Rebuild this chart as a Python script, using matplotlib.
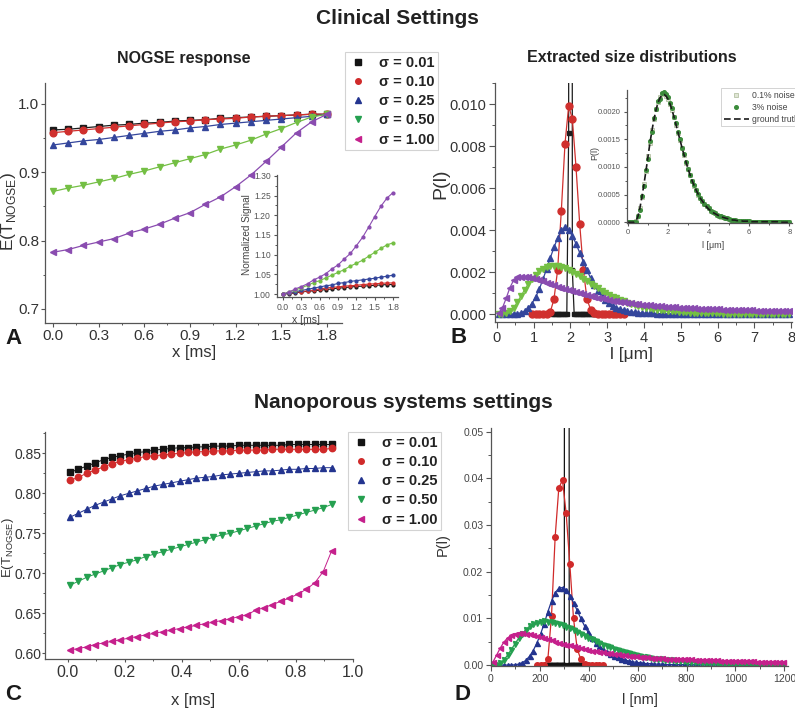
import numpy as np
import matplotlib
matplotlib.use('Agg')
import matplotlib.pyplot as plt
from matplotlib.lines import Line2D
from matplotlib.ticker import MultipleLocator, FormatStrFormatter

plt.rcParams['font.family'] = ['Liberation Sans', 'DejaVu Sans']
plt.rcParams['mathtext.fontset'] = 'custom'
plt.rcParams['mathtext.rm'] = 'Liberation Sans'

W, H = 795, 709

# ---------------- data ----------------
sigmaLabels = ['0.01', '0.10', '0.25', '0.50', '1.00']

# panel A: NOGSE response (clinical), x in ms
xA = np.round(np.arange(0, 1.85, 0.1), 2)
respA_s001 = [0.962, 0.963, 0.965, 0.967, 0.969, 0.970, 0.972, 0.973, 0.975, 0.976,
              0.977, 0.979, 0.980, 0.981, 0.982, 0.983, 0.984, 0.985, 0.985]
respA_s010 = [0.958, 0.960, 0.962, 0.964, 0.966, 0.968, 0.970, 0.972, 0.974, 0.975,
              0.977, 0.978, 0.979, 0.981, 0.982, 0.983, 0.984, 0.985, 0.985]
respA_s025 = [0.940, 0.943, 0.946, 0.948, 0.951, 0.954, 0.957, 0.960, 0.962, 0.965,
              0.967, 0.970, 0.972, 0.974, 0.976, 0.978, 0.980, 0.982, 0.985]
respA_s050 = [0.872, 0.877, 0.881, 0.886, 0.891, 0.897, 0.902, 0.908, 0.914, 0.920,
              0.926, 0.934, 0.940, 0.947, 0.956, 0.964, 0.973, 0.981, 0.985]
respA_s100 = [0.783, 0.787, 0.793, 0.798, 0.803, 0.811, 0.817, 0.824, 0.833, 0.841,
              0.853, 0.864, 0.879, 0.896, 0.916, 0.937, 0.958, 0.974, 0.985]

# inset of A: normalized signal
normA_s001 = [1.000, 1.001, 1.003, 1.005, 1.007, 1.008, 1.010, 1.011, 1.013, 1.015,
              1.016, 1.018, 1.019, 1.020, 1.021, 1.022, 1.023, 1.024, 1.024]
normA_s010 = [1.000, 1.002, 1.004, 1.006, 1.008, 1.010, 1.013, 1.015, 1.017, 1.018,
              1.020, 1.021, 1.022, 1.024, 1.025, 1.026, 1.027, 1.028, 1.028]
normA_s025 = [1.000, 1.003, 1.006, 1.009, 1.012, 1.015, 1.018, 1.021, 1.023, 1.027,
              1.029, 1.032, 1.034, 1.036, 1.038, 1.040, 1.043, 1.045, 1.048]
normA_s050 = [1.000, 1.006, 1.010, 1.016, 1.022, 1.029, 1.034, 1.041, 1.048, 1.055,
              1.062, 1.071, 1.078, 1.086, 1.096, 1.106, 1.116, 1.125, 1.130]
normA_s100 = [1.000, 1.005, 1.013, 1.019, 1.026, 1.036, 1.043, 1.052, 1.064, 1.074,
              1.089, 1.103, 1.123, 1.144, 1.170, 1.197, 1.223, 1.244, 1.258]

# panel B: extracted size distributions (clinical), l in um
lB = np.round(np.arange(0.05, 8.0, 0.1), 2)
lB_s001 = np.round(np.arange(1.5, 2.72, 0.05), 3)
distB_s001 = [0, 0, 0, 0, 0, 0, 0, 0, 0, 0.0086, 0.4, 0.0021, 0,
              0, 0, 0, 0, 0, 0, 0, 0, 0, 0, 0, 0]
lB_s010 = np.round(np.arange(0.95, 3.5, 0.1), 2)
distB_s010 = [0, 0, 0, 0, 0.00002, 0.0001, 0.0007, 0.0021, 0.0049, 0.0081,
              0.0099, 0.0093, 0.0070, 0.0043, 0.0021, 0.0007, 0.0002, 0.00005, 0, 0,
              0, 0, 0, 0, 0, 0]
distB_s025 = [0, 0, 0, 0, 0, 0.00002, 0.00006, 0.00014, 0.00028,
              0.00050, 0.00080, 0.00118, 0.00165, 0.00215, 0.00267, 0.00317, 0.00362, 0.00398, 0.00412,
              0.00400, 0.00372, 0.00335, 0.00292, 0.00250, 0.00208, 0.00170, 0.00137, 0.00108, 0.00085,
              0.00066, 0.00051, 0.00040, 0.00031, 0.00024, 0.00018, 0.00014, 0.00011, 0.00008, 0.00006,
              0.00005, 0.00004, 0.00003, 0.00003, 0.00002, 0.00002, 0.00001, 0.00001, 0.00001, 0.00001,
              0, 0, 0, 0, 0, 0, 0, 0, 0, 0, 0, 0, 0, 0, 0, 0, 0, 0, 0, 0,
              0, 0, 0, 0, 0, 0, 0, 0, 0, 0, 0]
distB_s050 = [0.00000, 0.00001, 0.00004, 0.00012, 0.00030, 0.00055, 0.00085, 0.00115, 0.00143,
              0.00167, 0.00187, 0.00203, 0.00215, 0.00223, 0.00228, 0.00230, 0.00229, 0.00225, 0.00219,
              0.00211, 0.00202, 0.00191, 0.00180, 0.00168, 0.00156, 0.00144, 0.00133, 0.00122, 0.00111,
              0.00101, 0.00092, 0.00083, 0.00075, 0.00067, 0.00060, 0.00054, 0.00048, 0.00043, 0.00038,
              0.00034, 0.00030, 0.00027, 0.00024, 0.00021, 0.00019, 0.00017, 0.00015, 0.00013, 0.00012,
              0.00010, 0.00009, 0.00008, 0.00007, 0.00006, 0.00006, 0.00005, 0.00004, 0.00004, 0.00003,
              0.00003, 0.00003, 0.00002, 0.00002, 0.00002, 0.00002, 0.00001, 0.00001, 0.00001, 0.00001,
              0.00001, 0.00001, 0.00001, 0.00001, 0.00001, 0, 0, 0, 0, 0, 0]
distB_s100 = [0.00005, 0.00030, 0.00075, 0.00125, 0.00160, 0.00174, 0.00178, 0.00178, 0.00176, 0.00172,
              0.00167, 0.00162, 0.00156, 0.00150, 0.00144, 0.00137, 0.00131, 0.00125, 0.00119, 0.00113,
              0.00108, 0.00105, 0.00100, 0.00095, 0.00090, 0.00086, 0.00082, 0.00078, 0.00074, 0.00071,
              0.00067, 0.00064, 0.00061, 0.00059, 0.00056, 0.00054, 0.00051, 0.00049, 0.00047, 0.00045,
              0.00043, 0.00041, 0.00040, 0.00038, 0.00037, 0.00035, 0.00034, 0.00033, 0.00032, 0.00031,
              0.00030, 0.00029, 0.00028, 0.00027, 0.00026, 0.00025, 0.00025, 0.00024, 0.00023, 0.00022,
              0.00022, 0.00021, 0.00021, 0.00020, 0.00019, 0.00019, 0.00018, 0.00018, 0.00017, 0.00017,
              0.00016, 0.00016, 0.00016, 0.00015, 0.00015, 0.00014, 0.00014, 0.00014, 0.00013, 0.00013]

# inset of B: noise test, l in um
lBin = np.round(np.arange(0, 8.05, 0.1), 2)
truthBin = [0, 0, 0, 0, 0.00002, 0.00010, 0.00025, 0.00045, 0.00068, 0.00092,
            0.00118, 0.00143, 0.00166, 0.00186, 0.00203, 0.00216, 0.00225, 0.00230, 0.00231, 0.00228,
            0.00222, 0.00213, 0.00202, 0.00189, 0.00175, 0.00161, 0.00147, 0.00133, 0.00120, 0.00107,
            0.00095, 0.00084, 0.00074, 0.00065, 0.00057, 0.00050, 0.00043, 0.00038, 0.00033, 0.00028,
            0.00024, 0.00021, 0.00018, 0.00016, 0.00014, 0.00012, 0.00010, 0.00009, 0.00008, 0.00007,
            0.00006, 0.00005, 0.00004, 0.00004, 0.00003, 0.00003, 0.00003, 0.00002, 0.00002, 0.00002,
            0.00002, 0.00001, 0.00001, 0.00001, 0.00001, 0.00001, 0.00001, 0.00001, 0.00001, 0.00001,
            0.00001, 0.00001, 0.00001, 0.00001, 0.00001, 0, 0, 0, 0, 0, 0]
noise01Bin = [0, 0, 0, 0, 0.00002, 0.00011, 0.00026, 0.00046, 0.00069, 0.00093,
              0.00119, 0.00144, 0.00167, 0.00187, 0.00204, 0.00217, 0.00226, 0.00231, 0.00232, 0.00229,
              0.00223, 0.00214, 0.00203, 0.00190, 0.00176, 0.00162, 0.00148, 0.00134, 0.00121, 0.00108,
              0.00096, 0.00085, 0.00075, 0.00066, 0.00058, 0.00050, 0.00044, 0.00038, 0.00033, 0.00029,
              0.00025, 0.00021, 0.00018, 0.00016, 0.00014, 0.00012, 0.00010, 0.00009, 0.00008, 0.00007,
              0.00006, 0.00005, 0.00004, 0.00004, 0.00003, 0.00003, 0.00003, 0.00002, 0.00002, 0.00002,
              0.00002, 0.00001, 0.00001, 0.00001, 0.00001, 0.00001, 0.00001, 0.00001, 0.00001, 0.00001,
              0.00001, 0.00001, 0.00001, 0.00001, 0.00001, 0, 0, 0, 0, 0, 0]
noise3Bin = [0, 0, 0, 0, 0.00001, 0.00012, 0.00022, 0.00048, 0.00066, 0.00095,
             0.00115, 0.00146, 0.00163, 0.00189, 0.00205, 0.00219, 0.00223, 0.00233, 0.00235, 0.00231,
             0.00226, 0.00215, 0.00206, 0.00191, 0.00179, 0.00163, 0.00150, 0.00135, 0.00123, 0.00109,
             0.00097, 0.00086, 0.00075, 0.00067, 0.00058, 0.00051, 0.00044, 0.00039, 0.00033, 0.00029,
             0.00025, 0.00021, 0.00019, 0.00016, 0.00014, 0.00012, 0.00011, 0.00009, 0.00008, 0.00007,
             0.00006, 0.00005, 0.00005, 0.00004, 0.00003, 0.00003, 0.00003, 0.00002, 0.00002, 0.00002,
             0.00002, 0.00001, 0.00001, 0.00001, 0.00001, 0.00001, 0.00001, 0.00001, 0.00001, 0.00001,
             0.00001, 0.00001, 0.00001, 0.00001, 0.00001, 0, 0, 0, 0, 0, 0]

# panel C: NOGSE response (nanoporous), x in ms
xC = np.linspace(0.007, 0.925, 32)
respC_s001 = [0.826, 0.830, 0.834, 0.838, 0.842, 0.845, 0.847, 0.849, 0.851, 0.852,
              0.854, 0.855, 0.856, 0.857, 0.857, 0.858, 0.858, 0.859, 0.859, 0.859,
              0.860, 0.860, 0.860, 0.860, 0.860, 0.860, 0.861, 0.861, 0.861, 0.861, 0.861, 0.861]
respC_s010 = [0.816, 0.820, 0.825, 0.829, 0.833, 0.837, 0.840, 0.842, 0.844, 0.846,
              0.847, 0.848, 0.849, 0.850, 0.851, 0.852, 0.852, 0.853, 0.853, 0.853,
              0.854, 0.854, 0.854, 0.854, 0.855, 0.855, 0.855, 0.855, 0.855, 0.855, 0.855, 0.856]
respC_s025 = [0.770, 0.775, 0.780, 0.785, 0.789, 0.793, 0.797, 0.800, 0.803, 0.806,
              0.809, 0.811, 0.813, 0.815, 0.817, 0.819, 0.820, 0.821, 0.823, 0.824,
              0.825, 0.826, 0.827, 0.828, 0.828, 0.829, 0.830, 0.830, 0.831, 0.831, 0.832, 0.832]
respC_s050 = [0.685, 0.690, 0.695, 0.699, 0.703, 0.707, 0.711, 0.714, 0.717, 0.721,
              0.724, 0.727, 0.730, 0.733, 0.736, 0.739, 0.742, 0.745, 0.748, 0.750,
              0.753, 0.756, 0.759, 0.762, 0.765, 0.767, 0.770, 0.773, 0.776, 0.779, 0.782, 0.786]
respC_s100 = [0.604, 0.606, 0.608, 0.611, 0.613, 0.615, 0.617, 0.619, 0.621, 0.623,
              0.625, 0.627, 0.629, 0.631, 0.633, 0.635, 0.637, 0.639, 0.641, 0.643,
              0.646, 0.648, 0.654, 0.657, 0.661, 0.665, 0.669, 0.674, 0.680, 0.688, 0.702, 0.728]

# panel D: extracted size distributions (nanoporous), l in nm
lD = np.arange(7.5, 1200, 15.0)
lD_s001 = np.arange(225, 401, 5.0)
distD_s001 = [0, 0, 0, 0, 0, 0, 0, 0, 0, 0, 0, 0, 0, 0, 0, 0, 1.0, 1.5, 1.0,
              0, 0, 0, 0, 0, 0, 0, 0, 0, 0, 0, 0, 0, 0, 0, 0, 0]
lD_s010 = np.arange(187.5, 460, 15.0)
distD_s010 = [0, 0, 0.0001, 0.0012, 0.0105, 0.0275, 0.0380, 0.0396, 0.0325, 0.0216,
              0.0100, 0.0035, 0.0012, 0.0003, 0, 0, 0, 0, 0]
distD_s025 = [0, 0, 0, 0, 0, 0,
              0.00005, 0.0002, 0.0005, 0.0010, 0.0019, 0.0031, 0.0047, 0.0066, 0.0089, 0.0114,
              0.0137, 0.0155, 0.0165, 0.0166, 0.0160, 0.0149, 0.0134, 0.0117, 0.0100, 0.0084,
              0.0070, 0.0057, 0.0047, 0.0040, 0.0034, 0.0029, 0.0024, 0.0020, 0.0017, 0.0014,
              0.0011, 0.0009, 0.0007, 0.0006, 0.0005, 0.0004, 0.0003, 0.0003, 0.0002,
              0.0002, 0.0002, 0.0001, 0.0001, 0.0001, 0.0001, 0.0001, 0.0001, 0.0001, 0.0001,
              0.00005, 0.00005, 0.00005, 0.00005, 0.00005, 0.00005, 0.00005, 0.00005, 0.00005, 0.00005,
              0, 0, 0, 0, 0, 0, 0, 0, 0, 0, 0, 0, 0, 0, 0]
distD_s050 = [0, 0.0001, 0.0004, 0.0011, 0.0021, 0.0033, 0.0045, 0.0057, 0.0067, 0.0076,
              0.0083, 0.0088, 0.0091, 0.0093, 0.0094, 0.0093, 0.0092, 0.0090, 0.0088, 0.0085,
              0.0082, 0.0079, 0.0075, 0.0071, 0.0067, 0.0063, 0.0059, 0.0055, 0.0051, 0.0047,
              0.0044, 0.0041, 0.0038, 0.0035, 0.0032, 0.0030, 0.0027, 0.0025, 0.0023, 0.0021,
              0.0020, 0.0018, 0.0017, 0.0016, 0.0014, 0.0013, 0.0012, 0.0011, 0.0010, 0.0010,
              0.0009, 0.0008, 0.0008, 0.0007, 0.0007, 0.0006, 0.0006, 0.0005, 0.0005, 0.0004,
              0.0004, 0.0004, 0.0003, 0.0003, 0.0003, 0.0003, 0.0002, 0.0002, 0.0002, 0.0002,
              0.0002, 0.0002, 0.0001, 0.0001, 0.0001, 0.0001, 0.0001, 0.0001, 0.0001, 0.0001]
distD_s100 = [0.0006, 0.0021, 0.0036, 0.0049, 0.0058, 0.0064, 0.0067, 0.0068, 0.0068, 0.0067,
              0.0066, 0.0064, 0.0062, 0.0060, 0.0058, 0.0055, 0.0053, 0.0050, 0.0048, 0.0046,
              0.0044, 0.0042, 0.0040, 0.0038, 0.0036, 0.0034, 0.0033, 0.0031, 0.0030, 0.0029,
              0.0027, 0.0026, 0.0025, 0.0024, 0.0023, 0.0022, 0.0021, 0.0020, 0.0020, 0.0019,
              0.0018, 0.0018, 0.0017, 0.0016, 0.0016, 0.0015, 0.0015, 0.0014, 0.0014, 0.0013,
              0.0013, 0.0013, 0.0012, 0.0012, 0.0012, 0.0011, 0.0011, 0.0011, 0.0010, 0.0010,
              0.0010, 0.0010, 0.0009, 0.0009, 0.0009, 0.0009, 0.0008, 0.0008, 0.0008, 0.0008,
              0.0008, 0.0008, 0.0007, 0.0007, 0.0007, 0.0007, 0.0007, 0.0007, 0.0006, 0.0006]

# ---------------- style ----------------
markers = ['s', 'o', '^', 'v', '<']
coloursA = ['#1c1c1c', '#d0302e', '#34469c', '#74bf44', '#8a4cb0']
coloursC = ['#141414', '#d02a2a', '#23348f', '#25a050', '#c5208c']

fig = plt.figure(figsize=(W / 100, H / 100), dpi=100)


def axes_px(left, top, right, bottom):
    return fig.add_axes([left / W, 1 - bottom / H, (right - left) / W, (bottom - top) / H])


def text_px(x, y, s, **kw):
    kw.setdefault('ha', 'center')
    kw.setdefault('va', 'center')
    fig.text(x / W, 1 - y / H, s, **kw)


def style_axes(ax, size, tick_len=4.5, colour='#333333', pad=2):
    ax.patch.set_alpha(0)
    for side in ['top', 'right']:
        ax.spines[side].set_visible(False)
    for side in ['left', 'bottom']:
        ax.spines[side].set_color('#555555')
        ax.spines[side].set_linewidth(0.9)
    ax.tick_params(which='major', direction='out', length=tick_len, width=0.8,
                   labelsize=size, colors='#555555', labelcolor=colour, pad=pad)
    ax.tick_params(which='minor', direction='out', length=tick_len * 0.55, width=0.7,
                   colors='#555555')


def sigma_legend(ax, left, top):
    handles = [Line2D([], [], ls='none', marker=m, color=c, ms=4)
               for m, c in zip(markers, coloursC)]
    labels = ['\u03c3 = ' + s for s in sigmaLabels]
    leg = ax.legend(handles, labels, loc='upper left',
                    bbox_to_anchor=(left / W, 1 - top / H), bbox_transform=fig.transFigure,
                    borderaxespad=0, frameon=True, fancybox=False, borderpad=0.25,
                    labelspacing=0.36, handlelength=1.3, handletextpad=0.75,
                    prop={'weight': 'bold', 'size': 10.5})
    leg.get_frame().set_edgecolor('#c8c8c8')
    leg.get_frame().set_linewidth(0.8)
    for t in leg.get_texts():
        t.set_color('#222222')


# ---------------- panel A ----------------
axA = axes_px(45, 83, 342, 323)
for y, m, c in zip([respA_s001, respA_s010, respA_s025, respA_s050, respA_s100], markers, coloursA):
    axA.plot(xA, y, marker=m, color=c, ms=4.8 if m != 's' else 4.3, lw=0.9)
axA.set_xlim(-0.0526, 1.8986)
axA.set_ylim(0.6795, 1.0307)
axA.xaxis.set_major_locator(MultipleLocator(0.3))
axA.xaxis.set_minor_locator(MultipleLocator(0.15))
axA.yaxis.set_major_locator(MultipleLocator(0.1))
axA.yaxis.set_minor_locator(MultipleLocator(0.05))
axA.xaxis.set_major_formatter(FormatStrFormatter('%.1f'))
axA.yaxis.set_major_formatter(FormatStrFormatter('%.1f'))
style_axes(axA, 11, tick_len=3.0, pad=1.0)
axA.tick_params(axis='x', pad=1.5)
sigma_legend(axA, 345, 52)

# inset of A
axAi = axes_px(277, 175, 398, 297)
for y, m, c in zip([normA_s001, normA_s010, normA_s025, normA_s050, normA_s100], markers, coloursA):
    axAi.plot(xA, y, marker='o', color=c, ms=2.0, lw=0.8)
axAi.set_xlim(-0.1, 1.88)
axAi.set_ylim(0.9924, 1.3025)
axAi.xaxis.set_major_locator(MultipleLocator(0.3))
axAi.xaxis.set_minor_locator(MultipleLocator(0.15))
axAi.yaxis.set_major_locator(MultipleLocator(0.05))
axAi.yaxis.set_minor_locator(MultipleLocator(0.025))
axAi.xaxis.set_major_formatter(FormatStrFormatter('%.1f'))
axAi.yaxis.set_major_formatter(FormatStrFormatter('%.2f'))
style_axes(axAi, 6.2, tick_len=2.5, colour='#555555')

# ---------------- panel B ----------------
axB = axes_px(495, 83, 792, 322)
axB.plot(lB_s001, distB_s001, marker='s', color=coloursA[0], ms=3.3, lw=0.9)
axB.plot(lB_s010, distB_s010, marker='o', color=coloursA[1], ms=5.0, lw=0.9)
for y, m, c in zip([distB_s025, distB_s050, distB_s100], markers[2:], coloursA[2:]):
    axB.plot(lB, y, marker=m, color=c, ms=4.2, lw=0.9)
axB.set_xlim(-0.054, 8.027)
axB.set_ylim(-0.00038, 0.0110)
axB.xaxis.set_major_locator(MultipleLocator(1))
axB.xaxis.set_minor_locator(MultipleLocator(0.5))
axB.yaxis.set_major_locator(MultipleLocator(0.002))
axB.yaxis.set_minor_locator(MultipleLocator(0.001))
axB.yaxis.set_major_formatter(FormatStrFormatter('%.3f'))
style_axes(axB, 10.5)

# inset of B
axBi = axes_px(627, 90, 792, 223)
axBi.plot(lBin, noise01Bin, ls='none', marker='s', ms=3.0, mfc='#dfe6d4', mec='#b6c2a6', mew=0.6,
          label='0.1% noise')
axBi.plot(lBin, noise3Bin, ls='none', marker='o', ms=2.6, color='#3c8c3c', label='3% noise')
axBi.plot(lBin, truthBin, ls=(0, (4, 2)), color='#1a1a1a', lw=1.2, label='ground truth')
axBi.set_xlim(-0.035, 8.13)
axBi.set_ylim(-0.000013, 0.00239)
axBi.xaxis.set_major_locator(MultipleLocator(2))
axBi.xaxis.set_minor_locator(MultipleLocator(1))
axBi.yaxis.set_major_locator(MultipleLocator(0.0005))
axBi.yaxis.set_minor_locator(MultipleLocator(0.00025))
axBi.yaxis.set_major_formatter(FormatStrFormatter('%.4f'))
style_axes(axBi, 5.5, tick_len=2.5, colour='#555555')
legBi = axBi.legend(loc='upper left', bbox_to_anchor=(721 / W, 1 - 88 / H),
                    bbox_transform=fig.transFigure, borderaxespad=0, fancybox=False,
                    borderpad=0.3, labelspacing=0.35, handlelength=2.9, handletextpad=0.4,
                    prop={'size': 6.2})
legBi.get_frame().set_edgecolor('#c8c8c8')
legBi.get_frame().set_linewidth(0.7)
for t in legBi.get_texts():
    t.set_color('#444444')

# ---------------- panel C ----------------
axC = axes_px(45, 432, 353, 659)
for y, m, c in zip([respC_s001, respC_s010, respC_s025, respC_s050, respC_s100], markers, coloursC):
    axC.plot(xC, y, marker=m, color=c, ms=4.6 if m != 's' else 4.2, lw=0.7)
axC.set_xlim(-0.08, 1.0)
axC.set_ylim(0.5929, 0.8766)
axC.xaxis.set_major_locator(MultipleLocator(0.2))
axC.xaxis.set_minor_locator(MultipleLocator(0.1))
axC.yaxis.set_major_locator(MultipleLocator(0.05))
axC.yaxis.set_minor_locator(MultipleLocator(0.025))
axC.xaxis.set_major_formatter(FormatStrFormatter('%.1f'))
axC.yaxis.set_major_formatter(FormatStrFormatter('%.2f'))
style_axes(axC, 10.0, tick_len=2.5, pad=0.3)
axC.tick_params(axis='x', labelsize=11.5, pad=1.5)
sigma_legend(axC, 348, 432)

# ---------------- panel D ----------------
axD = axes_px(491, 428, 788, 666)
axD.plot(lD_s001, distD_s001, marker='s', color=coloursC[0], ms=3.0, lw=0.9)
axD.plot(lD_s010, distD_s010, marker='o', color=coloursC[1], ms=4.0, lw=0.9)
for y, m, c in zip([distD_s025, distD_s050, distD_s100], markers[2:], coloursC[2:]):
    axD.plot(lD, y, marker=m, color=c, ms=3.6, lw=0.9)
axD.set_xlim(0, 1215)
axD.set_ylim(-0.0002, 0.0508)
axD.xaxis.set_major_locator(MultipleLocator(200))
axD.xaxis.set_minor_locator(MultipleLocator(100))
axD.yaxis.set_major_locator(MultipleLocator(0.01))
axD.yaxis.set_minor_locator(MultipleLocator(0.005))
axD.yaxis.set_major_formatter(FormatStrFormatter('%.2f'))
style_axes(axD, 7.5, tick_len=3.5, colour='#444444')

# ---------------- texts ----------------
text_px(397, 19, 'Clinical Settings', fontsize=15, fontweight='bold', color='#222222')
text_px(184, 58, 'NOGSE response', fontsize=11.5, fontweight='bold', color='#222222')
text_px(632, 58, 'Extracted size distributions', fontsize=11.5, fontweight='bold', color='#222222')
text_px(403, 403, 'Nanoporous systems settings', fontsize=15, fontweight='bold', color='#222222')

for letter, x, y in [('A', 13, 339), ('B', 459, 338), ('C', 13, 695), ('D', 463, 694)]:
    text_px(x, y, letter, fontsize=16, fontweight='bold', color='#1a1a1a')

ylabelE = r'E(T$_{\mathrm{NOGSE}}$)'
text_px(8.5, 211, ylabelE, fontsize=12.5, rotation=90, color='#333333')
text_px(194, 353, 'x [ms]', fontsize=12, color='#333333')
text_px(441, 184, 'P(l)', fontsize=14, rotation=90, color='#333333')
text_px(632, 355, 'l [\u03bcm]', fontsize=12.5, color='#333333')
text_px(7.8, 548, ylabelE, fontsize=9.5, rotation=90, color='#333333')
text_px(193, 700, 'x [ms]', fontsize=12, color='#333333')
text_px(443, 545, 'P(l)', fontsize=10.5, rotation=90, color='#333333')
text_px(640, 700, 'l [nm]', fontsize=10.5, color='#333333')

text_px(247.5, 235, 'Normalized Signal', fontsize=7.2, rotation=90, color='#444444')
text_px(306, 320, 'x [ms]', fontsize=7.5, color='#444444')
text_px(595, 153, 'P(l)', fontsize=6.5, rotation=90, color='#444444')
text_px(713, 246, 'l [\u03bcm]', fontsize=6.5, color='#444444')

fig.savefig('out.png', dpi=100)
